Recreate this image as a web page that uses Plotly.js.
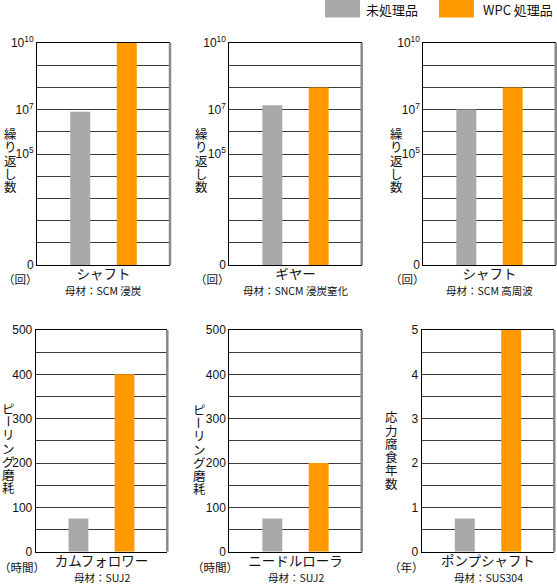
<!DOCTYPE html>
<html>
<head>
<meta charset="utf-8">
<script src="https://cdn.plot.ly/plotly-3.0.1.min.js"></script>
<style>html,body{margin:0;padding:0;background:#fff;}#chart{width:557px;height:584px;}</style>
</head>
<body>
<div id="chart"></div>
<script>
// ---------------- data ----------------
const seriesNames = ['未処理品', 'WPC 処理品'];

// fatigue: repeat counts, stored as log10(cycles)
const fatigueParts = ['シャフト', 'ギヤー', 'シャフト'];
const fatigueMaterials = ['母材：SCM 浸炭', '母材：SNCM 浸炭窒化', '母材：SCM 高周波'];
const fatigueUntreatedLog10 = [6.9, 7.2, 7.0];
const fatigueWpcLog10 = [10, 8, 8];
const fatigueTickVals = [0, 5, 7, 10];
const fatigueTickText = ['0', '10<sup>5</sup>', '10<sup>7</sup>', '10<sup>10</sup>'];
const fatigueGridStep = 1;

// peeling wear: hours
const wearParts = ['カムフォロワー', 'ニードルローラ'];
const wearMaterials = ['母材：SUJ2', '母材：SUJ2'];
const wearUntreatedHours = [75, 75];
const wearWpcHours = [400, 200];
const wearTickVals = [0, 100, 200, 300, 400, 500];
const wearTickText = ['0', '100', '200', '300', '400', '500'];
const wearGridStep = 50;

// stress corrosion: years
const corrosionParts = ['ポンプシャフト'];
const corrosionMaterials = ['母材：SUS304'];
const corrosionUntreatedYears = [0.75];
const corrosionWpcYears = [5];
const corrosionTickVals = [0, 1, 2, 3, 4, 5];
const corrosionTickText = ['0', '1', '2', '3', '4', '5'];
const corrosionGridStep = 0.5;

const yTitles = ['繰り返し数', 'ピーリング磨耗', '応力腐食年数'];
const unitLabels = ['（回）', '（時間）', '（年）'];

// ---------------- style ----------------
const W = 557, H = 584;
const GRAY = '#a9a9a9', ORANGE = '#ff9900';
const GRID = '#3a3a3a';
const JP = '"Noto Sans CJK JP", "Noto Sans", sans-serif';
const NUM = '"Liberation Sans", Arial, sans-serif';
const px = v => v / W;
const py = v => 1 - v / H;

const panels = [
  {part: fatigueParts[0], mat: fatigueMaterials[0], u: fatigueUntreatedLog10[0], w: fatigueWpcLog10[0], tv: fatigueTickVals, tt: fatigueTickText, gs: fatigueGridStep, range: [0, 10], title: yTitles[0], unit: unitLabels[0],
   x0: 37, x1: 170, y0: 43, y1: 265, tx: 10, ty: 160, ux: 20, matY: 290},
  {part: fatigueParts[1], mat: fatigueMaterials[1], u: fatigueUntreatedLog10[1], w: fatigueWpcLog10[1], tv: fatigueTickVals, tt: fatigueTickText, gs: fatigueGridStep, range: [0, 10], title: yTitles[0], unit: unitLabels[0],
   x0: 229.3, x1: 361.7, y0: 43, y1: 265, tx: 201.5, ty: 160, ux: 212, matY: 290},
  {part: fatigueParts[2], mat: fatigueMaterials[2], u: fatigueUntreatedLog10[2], w: fatigueWpcLog10[2], tv: fatigueTickVals, tt: fatigueTickText, gs: fatigueGridStep, range: [0, 10], title: yTitles[0], unit: unitLabels[0],
   x0: 423.3, x1: 555.7, y0: 43, y1: 265, tx: 396, ty: 160, ux: 407, matY: 290},
  {part: wearParts[0], mat: wearMaterials[0], u: wearUntreatedHours[0], w: wearWpcHours[0], tv: wearTickVals, tt: wearTickText, gs: wearGridStep, range: [0, 500], title: yTitles[1], unit: unitLabels[1],
   x0: 35.7, x1: 167.3, y0: 330, y1: 551.7, tx: 8.5, ty: 448, ux: 22, matY: 577.5},
  {part: wearParts[1], mat: wearMaterials[1], u: wearUntreatedHours[1], w: wearWpcHours[1], tv: wearTickVals, tt: wearTickText, gs: wearGridStep, range: [0, 500], title: yTitles[1], unit: unitLabels[1],
   x0: 229.3, x1: 361.7, y0: 330, y1: 551.7, tx: 199, ty: 449, ux: 215, matY: 577.5},
  {part: corrosionParts[0], mat: corrosionMaterials[0], u: corrosionUntreatedYears[0], w: corrosionWpcYears[0], tv: corrosionTickVals, tt: corrosionTickText, gs: corrosionGridStep, range: [0, 5], title: yTitles[2], unit: unitLabels[2],
   x0: 421.7, x1: 554.3, y0: 330, y1: 551.7, tx: 391, ty: 450, ux: 406, matY: 577.5}
];

const traces = [];
const layout = {
  width: W, height: H,
  margin: {l: 0, r: 0, t: 0, b: 0},
  paper_bgcolor: '#fff', plot_bgcolor: '#fff',
  showlegend: false,
  barmode: 'group', bargap: 0.3, bargroupgap: 0.57,
  shapes: [], annotations: []
};

panels.forEach((p, i) => {
  const n = i + 1;
  const xa = 'x' + (n === 1 ? '' : n), ya = 'y' + (n === 1 ? '' : n);
  const xk = 'xaxis' + (n === 1 ? '' : n), yk = 'yaxis' + (n === 1 ? '' : n);
  traces.push({type: 'bar', x: [p.part], y: [p.u], name: seriesNames[0], xaxis: xa, yaxis: ya,
    marker: {color: GRAY, line: {width: 0}}, hoverinfo: 'skip'});
  traces.push({type: 'bar', x: [p.part], y: [p.w], name: seriesNames[1], xaxis: xa, yaxis: ya,
    marker: {color: ORANGE, line: {width: 0}}, hoverinfo: 'skip'});
  layout[xk] = {domain: [px(p.x0), px(p.x1)], anchor: ya, type: 'category',
    showline: true, mirror: true, linecolor: '#000', linewidth: 1,
    ticks: '', showgrid: false, zeroline: false, ticklabelstandoff: -3,
    tickfont: {family: JP, size: 13.5, color: '#111'}};
  layout[yk] = {domain: [py(p.y1), py(p.y0)], anchor: xa, range: p.range,
    tickmode: 'array', tickvals: p.tv, ticktext: p.tt,
    showline: true, linecolor: '#000', linewidth: 1, mirror: false,
    ticks: '', showgrid: true, gridcolor: GRID, gridwidth: 1, zeroline: false,
    minor: {tickmode: 'linear', tick0: 0, dtick: p.gs, showgrid: true, gridcolor: GRID, gridwidth: 1, ticks: ''},
    tickfont: {family: NUM, size: 12, color: '#111'}};
  // right frame edge (gray)
  layout.shapes.push({type: 'line', xref: xa + ' domain', yref: ya + ' domain', x0: 1, x1: 1, y0: 0, y1: 1,
    line: {color: '#8a8a8a', width: 2.5}});
  // material sub-label
  layout.annotations.push({xref: xa + ' domain', yref: 'paper', x: 0.5, y: py(p.matY), text: p.mat,
    showarrow: false, xanchor: 'center', yanchor: 'middle', font: {family: JP, size: 10.5, color: '#111'}});
  // unit label
  layout.annotations.push({xref: 'paper', yref: 'paper', x: px(p.ux), y: py(i < 3 ? 279 : 567), text: p.unit,
    showarrow: false, xanchor: 'center', yanchor: 'middle', font: {family: JP, size: 11.5, color: '#111'}});
  // vertical axis title, one character per line
  const chars = Array.from(p.title);
  const step = 13.3;
  chars.forEach((c, k) => {
    const yy = p.ty + (k - (chars.length - 1) / 2) * step;
    layout.annotations.push({xref: 'paper', yref: 'paper', x: px(p.tx), y: py(yy), text: c,
      textangle: c === 'ー' ? 90 : 0,
      showarrow: false, xanchor: 'center', yanchor: 'middle', font: {family: JP, size: 12.5, color: '#111'}});
  });
});

// legend (top right)
const legendItems = [
  {name: seriesNames[0], color: GRAY, bx0: 325, bx1: 360, tx: 364},
  {name: seriesNames[1], color: ORANGE, bx0: 439, bx1: 474, tx: 481}
];
legendItems.forEach(it => {
  layout.shapes.push({type: 'rect', xref: 'paper', yref: 'paper', x0: px(it.bx0), x1: px(it.bx1), y0: py(17.5), y1: py(0),
    fillcolor: it.color, line: {width: 0}});
  layout.annotations.push({xref: 'paper', yref: 'paper', x: px(it.tx), y: py(9), text: it.name, showarrow: false,
    xanchor: 'left', yanchor: 'middle', font: {family: JP, size: 13, color: '#111'}});
});

Plotly.newPlot('chart', traces, layout, {staticPlot: true, displayModeBar: false});
</script>
</body>
</html>
